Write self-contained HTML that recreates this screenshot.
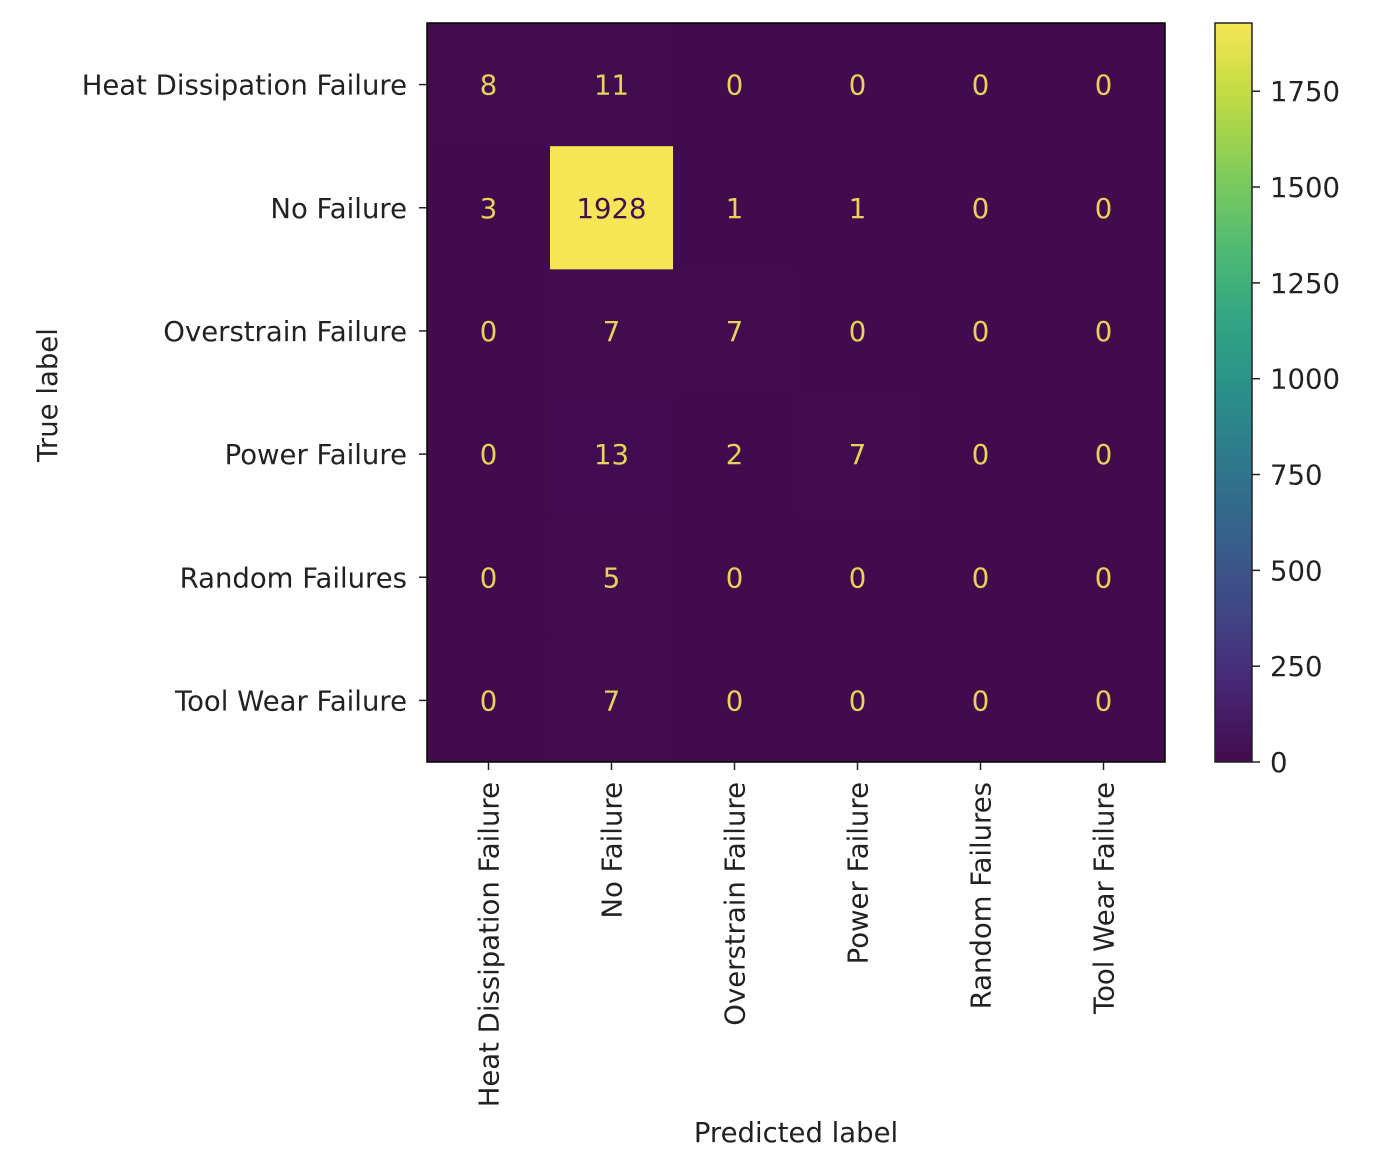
<!DOCTYPE html>
<html><head><meta charset="utf-8"><style>
html,body{margin:0;padding:0;background:#fff;}
svg text{font-family:"DejaVu Sans","Liberation Sans",sans-serif;}
</style></head><body>
<svg id="chart" width="1388" height="1164" xmlns="http://www.w3.org/2000/svg">
<defs>
<linearGradient id="vir" x1="0" y1="1" x2="0" y2="0">
<stop offset="0" stop-color="#420b4d"/><stop offset="0.1" stop-color="#472674"/><stop offset="0.2" stop-color="#414585"/><stop offset="0.3" stop-color="#375f8b"/><stop offset="0.4" stop-color="#2f778c"/><stop offset="0.5" stop-color="#2a8f8a"/><stop offset="0.6" stop-color="#32a583"/><stop offset="0.7" stop-color="#52bb72"/><stop offset="0.8" stop-color="#84cc5a"/><stop offset="0.9" stop-color="#c0db42"/><stop offset="1" stop-color="#f6e655"/>
</linearGradient>
</defs>
<g id="cells"></g>
<rect x="427" y="23" width="738" height="739" fill="none" stroke="#000" stroke-width="1.5"/>
<rect x="1215" y="23" width="37" height="739" fill="url(#vir)" stroke="#222" stroke-width="1.5"/>
<g id="axes"></g>
<text x="796" y="1142" font-size="27.5" text-anchor="middle" fill="#222">Predicted label</text>
<text transform="translate(57,395) rotate(-90)" font-size="27.5" text-anchor="middle" fill="#222">True label</text>
</svg>
<script>
const labels = ["Heat Dissipation Failure","No Failure","Overstrain Failure","Power Failure","Random Failures","Tool Wear Failure"];
const row0 = [8,11,0,0,0,0];
const row1 = [3,1928,1,1,0,0];
const row2 = [0,7,7,0,0,0];
const row3 = [0,13,2,7,0,0];
const row4 = [0,5,0,0,0,0];
const row5 = [0,7,0,0,0,0];
const cbTicks = [0,250,500,750,1000,1250,1500,1750];
const matrix = [row0,row1,row2,row3,row4,row5];
const NS='http://www.w3.org/2000/svg';
const L=427,T=23,W=738,H=739,n=labels.length,cw=W/n,ch=H/n;
const vmax=Math.max(...matrix.flat());
const stops=["#420b4d","#472674","#414585","#375f8b","#2f778c","#2a8f8a","#32a583","#52bb72","#84cc5a","#c0db42","#f6e655"];
function hex(h){return [1,3,5].map(i=>parseInt(h.substr(i,2),16));}
function vir(t){t=Math.max(0,Math.min(1,t));const p=t*10,i=Math.min(9,Math.floor(p)),f=p-i;const a=hex(stops[i]),b=hex(stops[i+1]);return 'rgb('+a.map((v,k)=>Math.round(v+(b[k]-v)*f)).join(',')+')';}
const xs=j=>L+cw*(j+0.5), ys=i=>T+ch*(i+0.5);
function mk(tag,attrs,parent){const e=document.createElementNS(NS,tag);for(const k in attrs)e.setAttribute(k,attrs[k]);parent.appendChild(e);return e;}
const cells=document.getElementById('cells'),axes=document.getElementById('axes');
matrix.forEach((row,i)=>row.forEach((v,j)=>{
  const r=mk('rect',{x:L+cw*j,y:T+ch*i,width:cw+0.5,height:ch+0.5,fill:vir(v/vmax)},cells);
  
  
  const t=mk('text',{x:xs(j),y:ys(i)+10,'font-size':27.5,'text-anchor':'middle',fill:v/vmax>0.5?'#440d50':'#e6d35a'},cells);
  t.textContent=v;
  
  
}));
labels.forEach((lab,k)=>{
  mk('line',{x1:L-8,x2:L,y1:ys(k),y2:ys(k),stroke:'#222','stroke-width':1.5},axes);
  const ty=mk('text',{x:L-20,y:ys(k)+10,'font-size':27.5,'text-anchor':'end',fill:'#222'},axes);
  ty.textContent=lab;
  
  
  mk('line',{x1:xs(k),x2:xs(k),y1:T+H,y2:T+H+8,stroke:'#222','stroke-width':1.5},axes);
  const tx=mk('text',{transform:'translate('+(xs(k)+10)+','+(T+H+20)+') rotate(-90)','font-size':27.5,'text-anchor':'end',fill:'#222'},axes);
  tx.textContent=lab;
  
  
});
const cbY=v=>T+H-v/vmax*H;
cbTicks.forEach(v=>{
  mk('line',{x1:1252,x2:1260,y1:cbY(v),y2:cbY(v),stroke:'#222','stroke-width':1.5},axes);
  const t=mk('text',{x:1270,y:cbY(v)+10,'font-size':27.5,fill:'#222'},axes);
  t.textContent=v;
  
  
});
</script>
</body></html>
